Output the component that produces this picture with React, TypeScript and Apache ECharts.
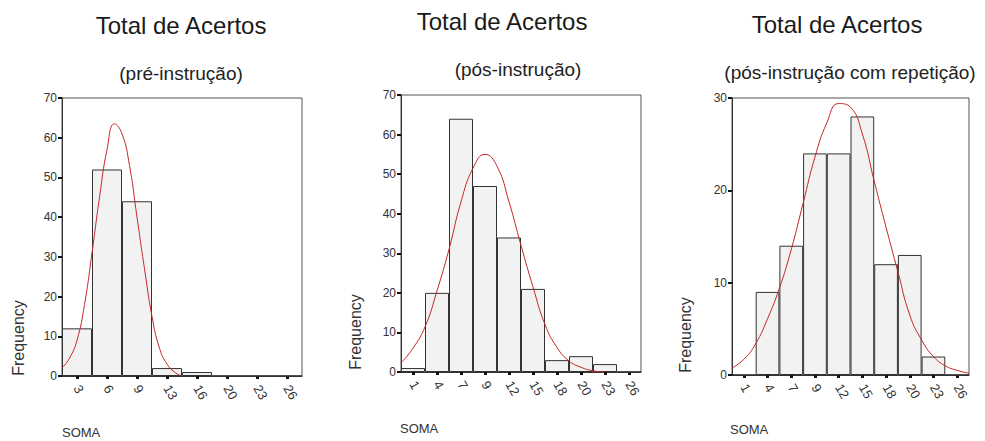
import React, { useEffect, useRef } from "react";
import * as echarts from "echarts";

// ---- Data ----
const cats1 = ["3", "6", "9", "13", "16", "20", "23", "26"];
const freq1 = [12, 52, 44, 2, 1, 0, 0, 0];
// fitted normal curve as [bin position, frequency]
const curve1: number[][] = [
  [-0.5, 2], [-0.25, 4.5], [0, 9], [0.25, 18], [0.5, 31], [0.75, 45], [1.0, 57],
  [1.25, 63.5], [1.5, 61], [1.75, 53], [2.0, 40], [2.25, 27], [2.5, 15], [2.75, 7],
  [3.0, 3], [3.25, 1], [3.5, 0],
];

const cats2 = ["1", "4", "7", "9", "12", "15", "18", "20", "23", "26"];
const freq2 = [1, 20, 64, 47, 34, 21, 3, 4, 2, 0];
const curve2: number[][] = [
  [-0.5, 2.3], [0, 6], [0.5, 11.4], [1.0, 20.5], [1.5, 31], [2.0, 43], [2.5, 51.5],
  [3.0, 55], [3.5, 52], [4.0, 43], [4.5, 32], [5.0, 21.5], [5.5, 12], [6.0, 6.2],
  [6.5, 2.8], [7.0, 1.2], [7.5, 0.3], [8.0, 0],
];

const cats3 = ["1", "4", "7", "9", "12", "15", "18", "20", "23", "26"];
const freq3 = [0, 9, 14, 24, 24, 28, 12, 13, 2, 0];
const curve3: number[][] = [
  [-0.5, 0.75], [0, 1.7], [0.5, 3.4], [1.0, 6.1], [1.5, 9.4], [2.0, 13.6], [2.5, 18.6],
  [3.0, 23.6], [3.5, 27.3], [4.0, 29.4], [4.5, 29.0], [5.0, 26.1], [5.5, 21], [6.0, 16],
  [6.5, 11.2], [7.0, 6.5], [7.5, 3.8], [8.0, 2], [8.5, 1], [9.0, 0.5], [9.5, 0.2],
];

const yMax = [70, 70, 30];
const titles = ["Total de Acertos", "Total de Acertos", "Total de Acertos"];
const subtitles = ["(pré-instrução)", "(pós-instrução)", "(pós-instrução com repetição)"];
const yName = "Frequency";
const xName = "SOMA";

const FONT = "'Liberation Sans', Arial, sans-serif";

export default function App() {
  const ref = useRef<HTMLDivElement>(null);

  useEffect(() => {
    if (!ref.current) return;
    const chart = echarts.init(ref.current, null, { renderer: "svg" });

    const grids = [
      { left: 62, top: 98, width: 240, height: 278 },
      { left: 401, top: 95, width: 240, height: 277 },
      { left: 732, top: 98, width: 237, height: 277 },
    ];
    const catsAll = [cats1, cats2, cats3];
    const freqAll = [freq1, freq2, freq3];
    const curveAll = [curve1, curve2, curve3];

    const xAxes: any[] = [];
    const yAxes: any[] = [];
    const series: any[] = [];
    grids.forEach((g, i) => {
      xAxes.push({
        type: "category",
        gridIndex: i,
        data: catsAll[i],
        boundaryGap: true,
        axisLine: { show: true, onZero: false, lineStyle: { color: "#333", width: 1 } },
        axisTick: { show: true, alignWithLabel: true, length: 3, lineStyle: { color: "#111", width: 3 } },
        axisLabel: { rotate: -60, margin: 10, fontSize: 13, color: "#333", fontFamily: FONT, interval: 0 },
        splitLine: { show: false },
      });
      xAxes.push({
        type: "value",
        gridIndex: i,
        min: -0.5,
        max: catsAll[i].length - 0.5,
        show: false,
      });
      yAxes.push({
        type: "value",
        gridIndex: i,
        min: 0,
        max: yMax[i],
        interval: 10,
        axisLine: { show: true, onZero: false, lineStyle: { color: "#333", width: 1 } },
        axisTick: { show: true, length: 4, lineStyle: { color: "#111", width: 2 } },
        axisLabel: { fontSize: 12, color: "#333", margin: 5, fontFamily: FONT },
        splitLine: { show: false },
      });
      series.push({
        type: "bar",
        xAxisIndex: 2 * i,
        yAxisIndex: i,
        data: freqAll[i],
        barCategoryGap: "0%",
        itemStyle: { color: "#f2f2f2", borderColor: "#333", borderWidth: 1 },
      });
      series.push({
        type: "line",
        xAxisIndex: 2 * i + 1,
        yAxisIndex: i,
        data: curveAll[i],
        smooth: true,
        symbol: "none",
        lineStyle: { color: "#c4262b", width: 1 },
        z: 5,
      });
    });

    const titlePos = [
      { x: 181, y: 25, sx: 181, sy: 73 },
      { x: 502, y: 21, sx: 518, sy: 69 },
      { x: 837, y: 24, sx: 850, sy: 72 },
    ];
    const yNamePos = [
      { x: 18, y: 338 },
      { x: 355, y: 332 },
      { x: 685, y: 335 },
    ];
    const xNamePos = [
      { x: 62, y: 432 },
      { x: 400, y: 428 },
      { x: 730, y: 429 },
    ];

    const graphics: any[] = [];
    titlePos.forEach((p, i) => {
      graphics.push({
        type: "text",
        x: p.x,
        y: p.y,
        style: { text: titles[i], font: `24px ${FONT}`, fill: "#1a1a1a", align: "center", verticalAlign: "middle" },
      });
      graphics.push({
        type: "text",
        x: p.sx,
        y: p.sy,
        style: { text: subtitles[i], font: `19px ${FONT}`, fill: "#222", align: "center", verticalAlign: "middle" },
      });
    });
    yNamePos.forEach((p) => {
      graphics.push({
        type: "text",
        x: p.x,
        y: p.y,
        rotation: Math.PI / 2,
        style: { text: yName, font: `16px ${FONT}`, fill: "#333", align: "center", verticalAlign: "middle" },
      });
    });
    xNamePos.forEach((p) => {
      graphics.push({
        type: "text",
        x: p.x,
        y: p.y,
        style: { text: xName, font: `13px ${FONT}`, fill: "#333", align: "left", verticalAlign: "middle" },
      });
    });

    chart.setOption({
      animation: false,
      backgroundColor: "#ffffff",
      grid: grids.map((g) => ({
        ...g,
        show: true,
        borderColor: "#555",
        borderWidth: 1,
        backgroundColor: "transparent",
        containLabel: false,
      })),
      xAxis: xAxes,
      yAxis: yAxes,
      series,
      graphic: graphics,
    });

    return () => chart.dispose();
  }, []);

  return (
    <div
      ref={ref}
      style={{ position: "fixed", left: 0, top: 0, width: 985, height: 441 }}
    />
  );
}
